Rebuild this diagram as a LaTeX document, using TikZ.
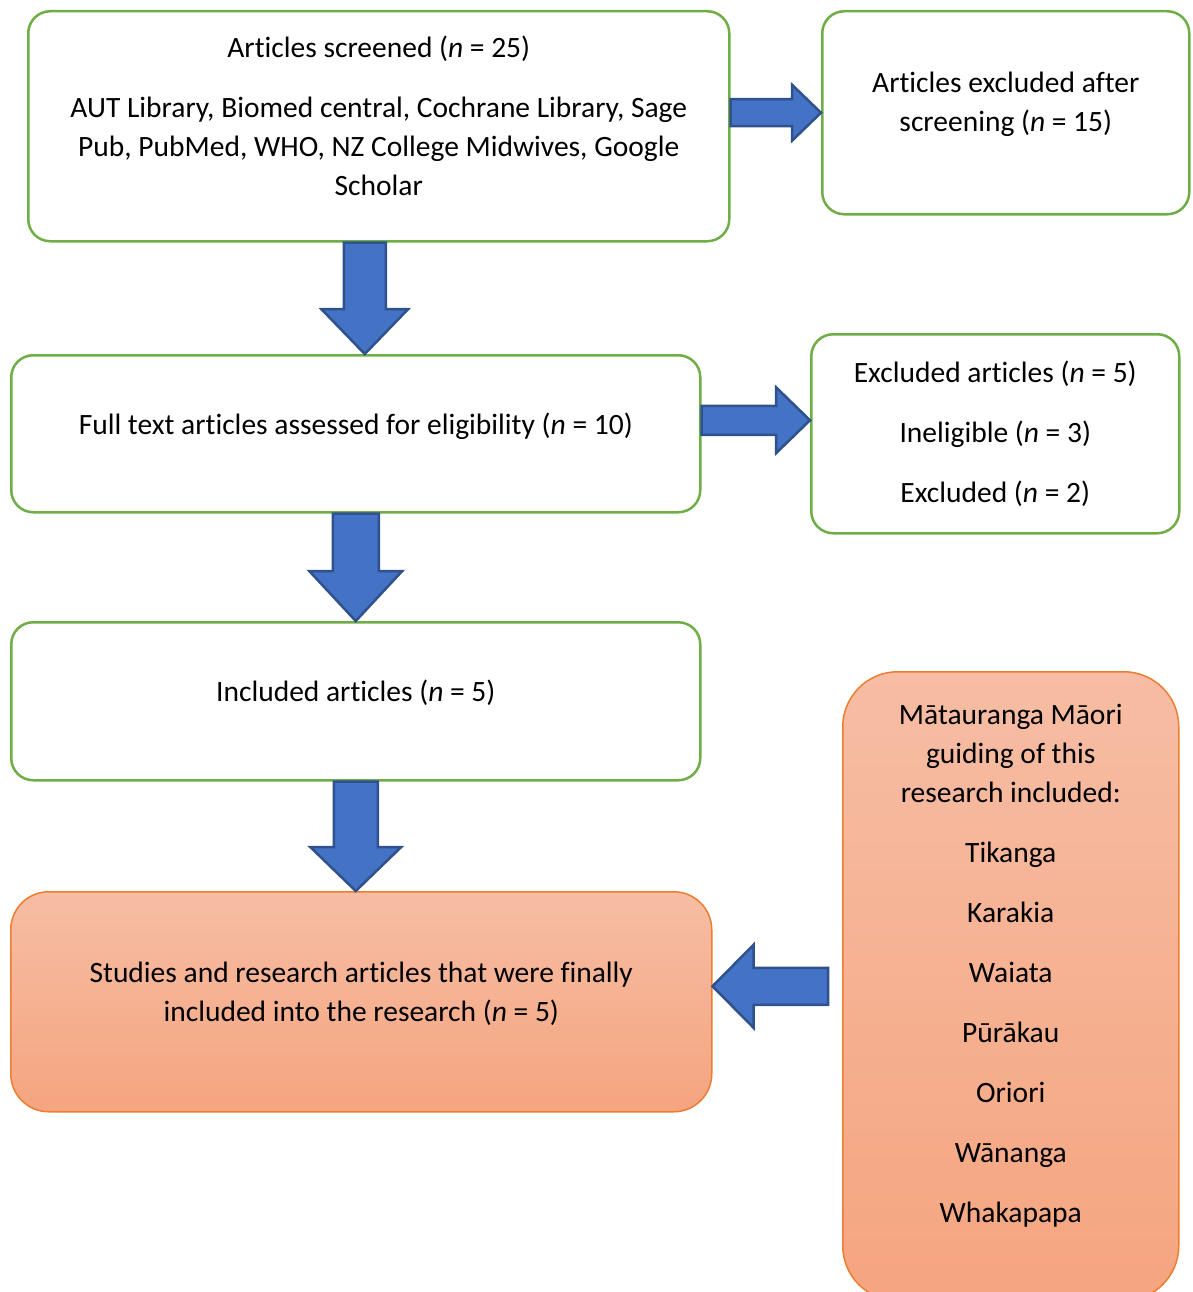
\documentclass[tikz,border=0pt]{standalone}
\usepackage{fontspec}
\setmainfont{Carlito}[Ligatures=NoCommon]
\usetikzlibrary{calc,positioning}
\definecolor{prGreen}{HTML}{70AD47}
\definecolor{prBlue}{HTML}{4472C4}
\definecolor{prNavy}{HTML}{2F528F}
\definecolor{prOrange}{HTML}{ED7D31}
\definecolor{prPeachTop}{HTML}{F6BDA4}
\definecolor{prPeachBot}{HTML}{F5A57F}
\tikzset{
 flowchart/.style={font=\fontsize{29.5}{39}\selectfont,x=1pt,y=-1pt},
 box/.style={rectangle,rounded corners=22pt,draw=prGreen,line width=2.5pt,fill=white,
   align=center,anchor=north west,inner sep=0pt},
 finalbox/.style={box,draw=prOrange,line width=1.5pt,top color=prPeachTop,bottom color=prPeachBot},
 fatarrow/.style={draw=prNavy,fill=prBlue,line width=2.5pt,line join=miter}
}
% block arrow: from, to, shaft half width, head half width, head length
\newcommand{\blockarrow}[5]{%
 \coordinate (ba-h) at ($(#2)!#5!(#1)$);
 \draw[fatarrow] ($(#1)!#3!90:(#2)$) -- ($(ba-h)!#3!-90:(#1)$) -- ($(ba-h)!#4!-90:(#1)$)
   -- (#2) -- ($(ba-h)!#4!90:(#1)$) -- ($(ba-h)!#3!90:(#1)$) -- ($(#1)!#3!-90:(#2)$) -- cycle;}

\begin{document}
\begin{tikzpicture}[flowchart]
 \useasboundingbox (0,0) rectangle (1193,1292);
 \node[box,minimum width=701pt,minimum height=230pt] (screened) at (27,10)
   {Articles screened (\textit{n} = 25)\\[21pt]
    AUT Library, Biomed central, Cochrane Library, Sage\\
    Pub, PubMed, WHO, NZ College Midwives, Google\\Scholar\\[-18pt]};
 \node[box,minimum width=367pt,minimum height=203pt] (excl1) at (821,10)
   {Articles excluded after\\screening (\textit{n} = 15)\\[-18pt]};
 \node[box,minimum width=689pt,minimum height=157pt] (fulltext) at (10,354)
   {Full text articles assessed for eligibility (\textit{n} = 10)\\[-18pt]};
 \node[box,minimum width=368pt,minimum height=199pt] (excl2) at (810,333)
   {Excluded articles (\textit{n} = 5)\\[21pt]Ineligible (\textit{n} = 3)\\[21pt]Excluded (\textit{n} = 2)};
 \node[box,minimum width=689pt,minimum height=158pt] (included) at (10,621)
   {Included articles (\textit{n} = 5)\\[-18pt]};
 \node[finalbox,rounded corners=38pt,minimum width=701pt,minimum height=220pt] (final) at (10,891)
   {Studies and research articles that were finally\\included into the research (\textit{n} = 5)\\[-18pt]};
 \node[finalbox,rounded corners=55pt,minimum width=336pt,minimum height=629pt] (maori) at (842,671)
   {Mātauranga Māori\\guiding of this\\research included:\\[21pt]Tikanga\\[21pt]Karakia\\[21pt]Waiata\\[21pt]
    Pūrākau\\[21pt]Oriori\\[21pt]Wānanga\\[21pt]Whakapapa\\[6pt]};

 \coordinate (a1s) at (screened.east |- excl1.west);
 \blockarrow{a1s}{excl1.west}{13.5pt}{28pt}{29pt}
 \coordinate (a2e) at ($(fulltext.north)+(9,0)$);
 \coordinate (a2s) at (a2e |- screened.south);
 \blockarrow{a2s}{a2e}{21pt}{43.5pt}{45pt}
 \coordinate (a3e) at ($(excl2.west)+(0,-13.5)$);
 \coordinate (a3s) at (fulltext.east |- a3e);
 \blockarrow{a3s}{a3e}{14.5pt}{33pt}{34pt}
 \blockarrow{fulltext.south}{included.north}{23pt}{46.5pt}{50pt}
 \coordinate (a5e) at (included.south |- final.north);
 \blockarrow{included.south}{a5e}{22pt}{45.5pt}{44pt}
 \coordinate (a6s) at ($(maori.west)+(-14,0)$);
 \coordinate (a6e) at (final.east |- a6s);
 \blockarrow{a6s}{a6e}{18.5pt}{41.5pt}{41pt}
\end{tikzpicture}
\end{document}
